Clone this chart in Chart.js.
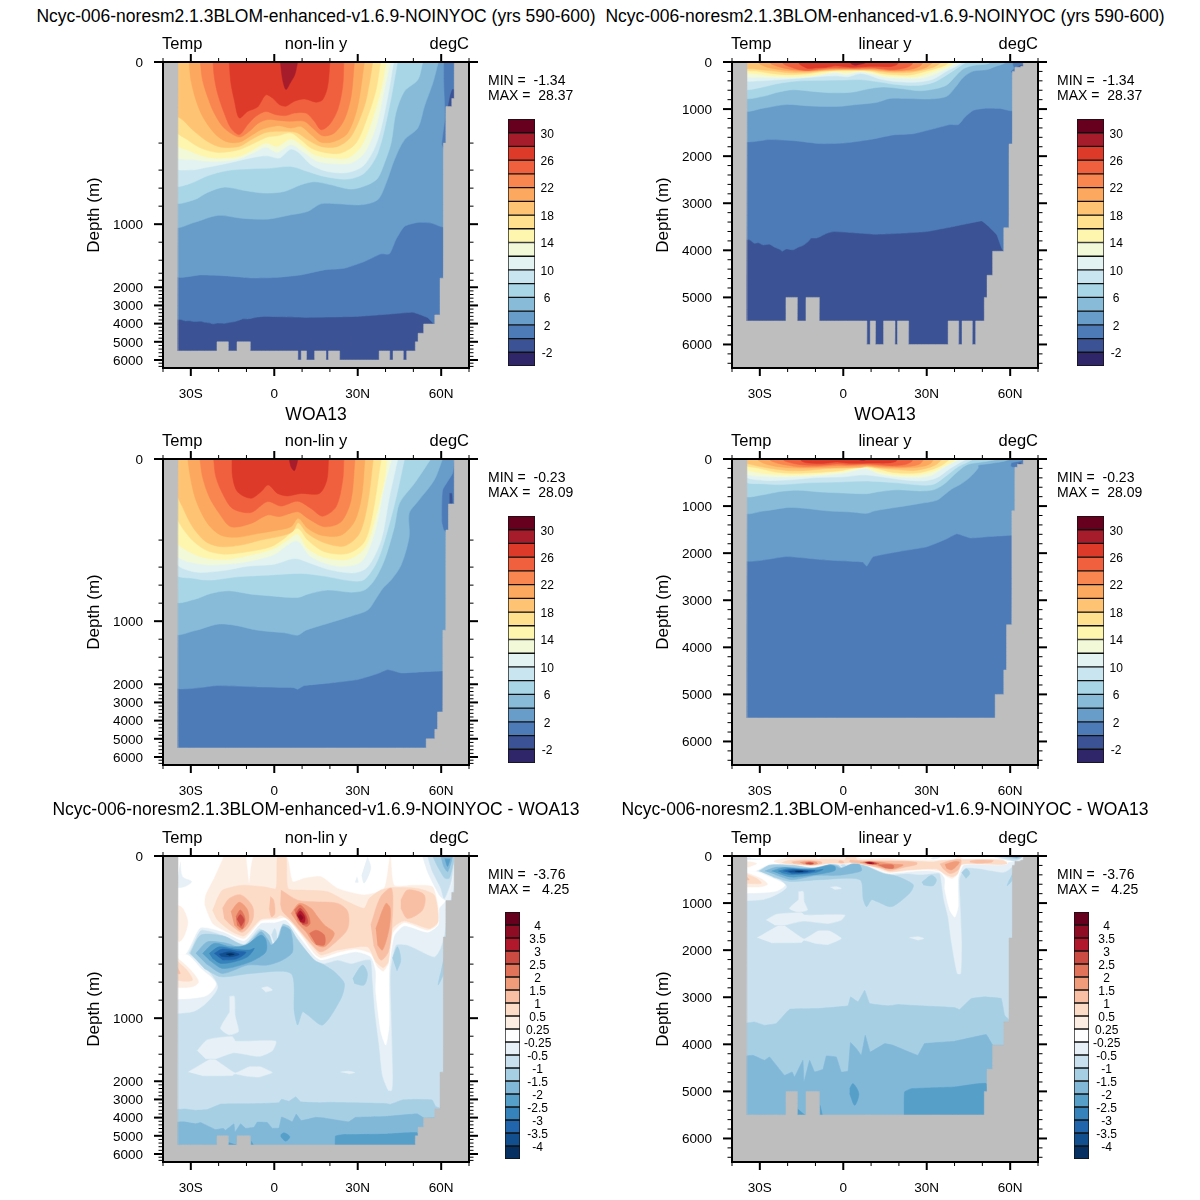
<!DOCTYPE html>
<html>
<head>
<meta charset="utf-8">
<title>Temperature sections</title>
<script src="https://cdn.jsdelivr.net/npm/chart.js@4/dist/chart.umd.min.js"></script>
<style>
  body { margin: 0; background: #fff; font-family: "Liberation Sans", sans-serif; color: #000; }
  #page { position: relative; width: 1200px; height: 1200px; overflow: hidden; }
  canvas { position: absolute; }
  .txt { position: absolute; white-space: pre; line-height: 1; }
</style>
</head>
<body>
<div id="page"></div>
<script>
// axis values
const latMajor = [-30, 0, 30, 60];
const depthMajor = [0, 1000, 2000, 3000, 4000, 5000, 6000];
// non-linear depth axis: depth -> fraction of axis height
const warpDepth = [0, 200, 400, 1400, 1600, 1800, 2000, 6000, 6500];
const warpFrac = [0, 0.265, 0.3533, 0.6478, 0.6903, 0.7132, 0.7361, 0.9738, 1];

// colour bars, top box to bottom box
const tempLevels = [30, 28, 26, 24, 22, 20, 18, 16, 14, 12, 10, 8, 6, 4, 2, 0, -2];
const tempColors = ["#67001f", "#a61c2b", "#dd3a2a", "#f0603e", "#f98550", "#fca85f", "#fec474", "#fee08e", "#fef6ae", "#f1f9d8", "#e2f3f2", "#c9e6f0", "#a8d6e6", "#87bbd8", "#689dca", "#4d7bb7", "#3b5394", "#2f2569"];
const diffLevels = ["4", "3.5", "3", "2.5", "2", "1.5", "1", "0.5", "0.25", "-0.25", "-0.5", "-1", "-1.5", "-2", "-2.5", "-3", "-3.5", "-4"];
const diffColors = ["#67001f", "#8e0d25", "#b2182b", "#cb4a42", "#e0735a", "#f09c7b", "#f8bfa4", "#fcdbc7", "#fdeee4", "#ffffff", "#e6f0f6", "#c9e1ee", "#a7cfe4", "#81b8d8", "#569fc9", "#3682ba", "#2166ac", "#124f8f", "#053061"];

// model isotherms, [lat, depth] along each line
const mT28 = [[2.2,0],[3,44],[4.2,68],[5.7,52],[7.4,31],[8.4,0]];
const mT26 = [[-16.2,0],[-15.6,52],[-14.4,93],[-12.6,138],[-9.6,122],[-6,111],[-3,81],[-0.6,89],[1.8,105],[4.2,109],[7.2,97],[10.8,91],[15,99],[17.4,93],[19.2,60],[20,0]];
const mT24 = [[-22,0],[-21.6,35],[-20.4,77],[-18,126],[-15.6,163],[-12.6,179],[-9.6,155],[-6.6,134],[-3,122],[0.6,130],[4.2,132],[7.2,126],[11.4,126],[14.4,146],[16.8,167],[19.8,155],[22.8,118],[24.6,60],[25,0]];
const mT22 = [[-26.6,0],[-25.8,44],[-24,85],[-21.6,126],[-18,163],[-12.6,185],[-9,171],[-6,152],[-2.4,142],[1.8,144],[5.4,146],[10.8,146],[13.8,163],[17.4,182],[21.6,175],[25.2,142],[27.6,85],[28.8,0]];
const mT20 = [[-30.6,0],[-30,44],[-28.2,93],[-25.8,134],[-21.6,175],[-17.4,196],[-12.6,198],[-8.4,182],[-4.8,167],[-1.2,160],[1.8,157],[6,163],[9.6,159],[13.2,179],[16.8,198],[21.6,196],[26.4,175],[30,109],[32.4,0]];
const mT18 = [[-35.5,126],[-32.4,146],[-28.8,171],[-24,196],[-19.2,230],[-12.6,225],[-8.4,192],[-3.6,175],[0.6,171],[4.8,171],[8.4,175],[12,192],[16.8,225],[22.8,225],[27.6,184],[32.4,109],[34.2,52],[35.4,0]];
const mT16 = [[-35.5,167],[-31.2,192],[-26.4,237],[-20.4,269],[-12.6,249],[-7.2,200],[-2.4,185],[1.2,182],[6,175],[9.6,192],[13.2,237],[18,269],[24,274],[29.4,200],[33.6,134],[36.6,68],[38.2,0]];
const mT14 = [[-35.5,200],[-30,262],[-24,304],[-18,311],[-12,294],[-7.2,244],[-3,200],[1,225],[6,190],[9.6,212],[14.4,286],[20.4,311],[26.4,311],[31.2,225],[34.8,151],[38.4,68],[40.2,0]];
const mT12 = [[-35.5,294],[-28.8,324],[-21.6,336],[-13.2,319],[-7.2,269],[-3,230],[1,269],[6,212],[10.2,262],[15.6,336],[21.6,353],[27.6,348],[32.4,274],[36.6,159],[39.6,68],[41.8,0]];
const mT10 = [[-35.5,378],[-30,398],[-24,378],[-15.6,343],[-7.2,304],[-2.4,294],[1.8,311],[6,244],[9,274],[13.2,360],[19.2,415],[26.4,426],[32.4,360],[37.2,192],[40.8,85],[42.9,0]];
const mT8 = [[-35.5,563],[-30,545],[-24,463],[-16.8,404],[-8.4,390],[-1.2,385],[6,373],[12,415],[18,470],[26.4,500],[32.4,433],[37.2,274],[41.4,109],[44.3,0]];
const mT6 = [[-35.5,748],[-28.8,729],[-24,648],[-18,589],[-10.8,626],[-3.6,655],[3.6,637],[9.6,563],[14.4,530],[20.4,563],[27.6,611],[33.6,563],[37.2,489],[39.6,348],[42,200],[43.7,126],[46.8,72],[51.6,44],[53.4,0]];
const mT4 = [[-35.5,1020],[-28.8,981],[-20.4,903],[-12,933],[-2.4,944],[6,896],[12,859],[16.8,774],[22.8,774],[31.2,785],[37.2,729],[40.2,544],[43.2,323],[46.8,192],[51.6,163],[54,109],[57,52],[59,0]];
const mT2 = [[-35.5,1666],[-26.4,1647],[-16.8,1676],[-8.4,1733],[0,1723],[9.6,1647],[18,1549],[25.2,1523],[32.4,1420],[38.4,1329],[41.4,1329],[43.7,1173],[46.8,1025],[51.6,981],[56.4,988],[61,1025],[61,260],[60.2,205],[61.3,138],[60.9,52],[60.9,0]];
const mT0 = [[-35.5,3760],[-33.5,3780],[-32,3850],[-30.5,3840],[-28.8,3885],[-26.5,3870],[-24.8,3930],[-22.8,3980],[-22,4020],[-20.5,3970],[-18,3990],[-16,3930],[-14.5,3900],[-12.6,3815],[-11.5,3740],[-9.6,3740],[-8,3700],[-6,3640],[-3.6,3602],[2,3620],[12,3659],[20,3640],[30,3602],[39.6,3495],[44,3440],[49.8,3375],[52,3480],[55.2,3673],[57.4,4000],[66,4000],[66,0]];
const mCold = [[62.4,115],[63.2,85],[64,68],[65,68],[65,115]];

// climatology isotherms
const oT28 = [[5.4,0],[6,19],[7.2,29],[8,15],[8.5,0]];
const oT26 = [[-15.2,0],[-15,44],[-13.2,81],[-8.4,97],[-4.8,81],[-2.2,64],[1.2,85],[4.8,91],[9.6,85],[16.2,85],[18.9,52],[19.5,0]];
const oT24 = [[-21.8,0],[-21,44],[-18.6,85],[-15,122],[-8.4,132],[-2.4,105],[2.4,116],[8.4,104],[13.2,122],[17.4,141],[22.2,118],[24.6,52],[25,0]];
const oT22 = [[-26.7,0],[-25.8,44],[-23.4,93],[-19.8,134],[-15.6,167],[-8.4,159],[-2.4,138],[1.8,142],[8.4,130],[12,146],[18,167],[24,155],[27.6,101],[29,0]];
const oT20 = [[-31.1,0],[-30.2,44],[-28.2,101],[-24,159],[-19.2,188],[-13.2,193],[-6,184],[0,177],[6,167],[8.6,146],[12,171],[16.8,188],[24,188],[28.8,155],[31.4,93],[32.6,0]];
const oT18 = [[-35.5,77],[-33,118],[-29.4,167],[-24.6,212],[-19.2,249],[-12,237],[-4.8,200],[2.4,190],[6.6,179],[8.6,157],[12,184],[18,220],[25.2,244],[30.6,184],[33.6,109],[35.6,0]];
const oT16 = [[-35.5,134],[-30.6,192],[-24.6,274],[-18,304],[-9.6,286],[-1.2,249],[3.6,196],[8.4,171],[12,200],[18,286],[26.4,299],[32.4,212],[35.4,134],[38.4,0]];
const oT14 = [[-35.5,200],[-30,294],[-24,336],[-16.8,343],[-8.4,311],[0,262],[4.8,200],[8.4,185],[12,262],[18,328],[26.4,343],[32.4,262],[36,155],[39.6,52],[40.5,0]];
const oT12 = [[-35.5,299],[-26.4,378],[-14.4,373],[-6,343],[0.2,304],[8,205],[13.2,324],[22.8,393],[31.2,361],[36,184],[39.6,68],[42.2,0]];
const oT10 = [[-35.5,361],[-28.8,452],[-19.2,441],[-9.6,393],[0,378],[7.4,336],[13.2,373],[20.4,433],[28.8,463],[33.6,398],[38.4,200],[41.4,93],[44.4,0]];
const oT8 = [[-35.5,470],[-28.8,526],[-22.8,544],[-13.2,507],[-2.4,489],[9.6,470],[18,500],[27.6,552],[32.4,537],[37.2,348],[41.4,159],[44.4,77],[46.8,0]];
const oT6 = [[-35.5,774],[-28.8,759],[-22.8,692],[-16.2,663],[-8.4,700],[0,722],[8.4,737],[12,700],[19.2,655],[27.6,678],[32.4,655],[36,544],[39.6,348],[43.2,167],[45,109],[50.4,60],[56.3,0]];
const oT4 = [[-35.5,1130],[-28.8,1107],[-20.4,1033],[-14.4,1044],[-6,1100],[3.6,1129],[8.4,1155],[11.4,1100],[19.2,1025],[27.6,944],[33.6,877],[36.6,748],[39,637],[42,544],[45.6,385],[48.5,192],[48.5,134],[51.6,105],[57.5,52],[60.5,0]];
const oT2 = [[-35.5,2147],[-20.4,2073],[-6,2147],[3.6,2175],[7,2190],[8.4,2275],[9.6,2170],[10.8,2073],[20.4,1961],[30,1866],[37.2,1695],[40.8,1590],[45.6,1676],[52.8,1647],[60.6,1619],[62.3,1619],[62.3,185],[60.9,175],[60.2,155],[60.5,77],[64.1,35],[64.7,0]];
const oCold = [[63,85],[63.8,85],[64,109],[63,109]];

// sea floor and side walls
const landModel = [[-40,0],[-34.6,0],[-34.6,5500],[-20.6,5500],[-20.6,5000],[-16.5,5000],[-16.5,5500],[-13.4,5500],[-13.4,5000],[-8.6,5000],[-8.6,5500],[8.5,5500],[8.5,6000],[9.7,6000],[9.7,5500],[11.6,5500],[11.6,6000],[14.5,6000],[14.5,5500],[18.6,5500],[18.6,6000],[19.5,6000],[19.5,5500],[23.5,5500],[23.5,6000],[37.7,6000],[37.7,5500],[41.5,5500],[41.5,6000],[42.7,6000],[42.7,5500],[46.4,5500],[46.4,6000],[47.6,6000],[47.6,5500],[50.7,5500],[50.7,5000],[51.7,5000],[51.7,4530],[53.7,4530],[53.7,4020],[57.7,4020],[57.7,3520],[59.6,3520],[59.6,1740],[60.8,1740],[60.8,200],[61.7,200],[61.7,110],[63.8,110],[63.8,90],[64.7,90],[64.7,0],[70,0],[70,6500],[-40,6500]];
const landObs = [[-40,0],[-34.6,0],[-34.6,5500],[54.6,5500],[54.6,5000],[57.7,5000],[57.7,4480],[58.7,4480],[58.7,3520],[60.6,3520],[60.6,1100],[61.7,1100],[61.7,175],[62.6,175],[62.6,111],[64.7,111],[64.7,0],[70,0],[70,6500],[-40,6500]];
const landDiff = [[-40,0],[-34.6,0],[-34.6,5500],[-20.6,5500],[-20.6,5000],[-16.5,5000],[-16.5,5500],[-13.4,5500],[-13.4,5000],[-8.6,5000],[-8.6,5500],[50.7,5500],[50.7,5000],[51.7,5000],[51.7,4530],[53.7,4530],[53.7,4020],[57.7,4020],[57.7,3520],[59.6,3520],[59.6,1740],[60.8,1740],[60.8,200],[61.7,200],[61.7,110],[63.8,110],[63.8,90],[64.7,90],[64.7,0],[70,0],[70,6500],[-40,6500]];
const wholeSection = [[-40,0],[70,0],[70,6500],[-40,6500]];

// difference field, one outline per closed contour
const dDeepA = [[-16.1,759],[-14.4,759],[-14.1,971],[-12.9,1149],[-16.3,1184],[-19.3,1113],[-16.1,936]];
const dDeepB = [[-27.7,1361],[-24.1,1241],[-15.1,1205],[-13.9,1255],[0.5,1255],[-0.7,1361],[-5.5,1432],[-14.5,1383],[-21.1,1468],[-24.7,1468]];
const dDeepC = [[-30.9,1737],[-23.5,1489],[-21.1,1489],[-14.1,1765],[-9.1,1595],[-4.9,1595],[-0.7,1751],[-5.5,1879],[-9.7,1858],[-14.1,1787],[-15.1,1836],[-25.9,1843]];
const dDeepD = [[23.8,1737],[26.8,1716],[28.9,1751],[26.8,1787]];
const dDeepE = [[-4.6,666],[-2.5,652],[-0.7,688],[-3.1,709]];
const dM15Deep = [[-36,3559],[-31.9,3524],[-28.3,3595],[-24.1,3559],[-19.3,3254],[-9.1,3240],[1.7,3183],[2.6,2992],[5.3,3098],[7.7,2850],[9.5,3134],[16.1,3183],[19.6,3155],[28,3183],[40,3219],[41.8,3261],[46,3027],[50.8,2992],[56.8,3027],[58,3382],[59.8,3488],[66,3488],[66,6500],[-36,6500]];
const dM20Deep = [[-36,4254],[-32.5,4233],[-28.3,4339],[-26.5,4268],[-21.1,4658],[-18.4,4587],[-17.5,4694],[-14.5,4339],[-14.1,4800],[-12.1,4339],[-10.3,4587],[-7.3,4530],[-6.1,4247],[-2.5,4268],[-0.7,4587],[1.7,4573],[2.6,3963],[4.7,4091],[6.5,4233],[7.9,3807],[9.7,4162],[14.9,3985],[17.9,4020],[26.8,4233],[29.2,3985],[40,3935],[51.4,3793],[53.8,4020],[66,4020],[66,6500],[-36,6500]];
const dM25Deep = [[21.9,5600],[22,5013],[24.4,4942],[40,4906],[51.4,4835],[52,5600]];
const dM25SmallA = [[2.3,4942],[3.5,4835],[5.6,5048],[4.1,5296],[2.3,5048]];
const dM25SmallB = [[-16.5,5367],[-15.1,5438],[-13.7,5509],[-16.5,5509]];
const dM25SmallC = [[-8.3,5296],[-7.5,5509],[-8.3,5509]];
const dFaintTop = [[-35.3,0],[-35.3,321],[-31.1,323],[-26.4,183],[-18.6,195],[-10.8,252],[-5.4,179],[-2.4,195],[0.2,259],[3,166],[4.2,169],[8.4,210],[14.4,370],[18,395],[22.8,370],[27.6,395],[32.3,370],[34.7,370],[35.3,559],[36.2,929],[37.7,1299],[38.9,1828],[41,2495],[42.2,2495],[42.5,1828],[41.9,929],[41.7,485],[43.7,259],[47.9,259],[57.5,346],[59.7,284],[61.1,195],[62.3,137],[65.3,55],[65.3,0]];
const dFaintLens = [[-35.3,259],[-31.7,304],[-29.4,346],[-24,467],[-20.4,652],[-24,818],[-28.8,922],[-35.3,948]];
const dZeroTop = [[-35.3,0],[-35.3,321],[-31.7,321],[-26.6,177],[-18,188],[-10.8,227],[-4.8,166],[0,164],[4.2,158],[8.4,193],[14.4,338],[16.8,370],[22.8,338],[29.4,309],[34.7,346],[36.5,478],[36.5,707],[38.3,1151],[40.1,1299],[41.3,1077],[41.3,467],[43.1,197],[46.7,172],[55.1,188],[58.9,170],[59.3,129],[61.7,109],[64.1,55],[64.1,0]];
const dZeroLens = [[-35.3,328],[-31.1,333],[-26.4,448],[-21,613],[-24,744],[-30,781],[-35.3,789]];
const dFaintPatchA = [[-33.8,14],[-33,51],[-29.7,63],[-32.3,76],[-35.3,76],[-34.7,55]];
const dFaintPatchB = [[33.5,2],[34.7,30],[32.3,67],[31.4,47]];
const dFaintPatchC = [[29.7,51],[30.2,65],[29,65]];
const dP025Main = [[-18,0],[-21.6,55],[-24.6,96],[-24.9,121],[-22.2,166],[-18.6,182],[-10.8,210],[-4.8,160],[0.6,156],[4.2,152],[9,188],[14.4,321],[16.8,353],[22.8,314],[29.4,289],[34.7,321],[37.1,430],[39.2,478],[41,395],[42.5,191],[46.7,164],[55.1,183],[58.5,170],[58.9,129],[56.9,76],[50.3,72],[43.1,72],[41.7,0],[39.5,80],[32.3,96],[22.8,80],[16.8,51],[10.8,55],[6.6,63],[4.2,0],[-7.2,0],[-9,67],[-10.2,0]];
const dP025Wall = [[-35.3,119],[-32.9,129],[-31.1,162],[-32.3,196],[-34.1,235],[-35.3,210]];
const dP025Lens = [[-35.3,346],[-30,467],[-27.2,596],[-29.4,652],[-35.3,659]];
const dP05Main = [[-21,113],[-18.6,84],[-11.4,72],[-3.6,76],[0.6,80],[1.2,0],[4.2,0],[5,80],[10.8,84],[19.2,88],[26.4,113],[32.3,129],[34.1,105],[38.3,84],[41.9,78],[51.5,80],[57.5,96],[58.9,162],[55.7,179],[46.7,160],[42.5,179],[41,383],[39.2,441],[36.5,383],[33.5,272],[22.8,296],[16.8,333],[13.2,259],[6,162],[2.4,146],[0.6,152],[-4.8,156],[-10.8,197],[-15.6,185],[-20.4,158],[-22.2,133]];
const dP05Lens = [[-35.3,370],[-31.1,478],[-29.4,578],[-32.3,589],[-35.3,578]];
const dP1Lens = [[-35.3,411],[-33.8,504],[-35.3,504]];
const dP1A = [[-18.6,129],[-16.2,105],[-12,96],[-7.8,125],[-7.8,158],[-11.4,188],[-15.6,170],[-18,154]];
const dP1B = [[-1.4,100],[-0.2,109],[0.2,142],[-1,150],[-1.8,129]];
const dP1C = [[2.4,84],[8.4,109],[14.4,113],[22.8,117],[26.4,137],[26.4,179],[22.2,235],[16.8,309],[13.2,247],[6,158],[3,137],[2.2,117]];
const dP1D = [[34.7,170],[38.3,100],[42.2,80],[42.2,179],[41,309],[38.3,370],[35.7,259]];
const dP1E = [[45.5,109],[47.9,84],[53.9,96],[53.3,133],[47.9,154],[45.5,129]];
const dP15A = [[-15.6,137],[-12.6,114],[-9.6,133],[-9.3,162],[-12,183],[-14.4,170]];
const dP15B = [[6,142],[9,117],[13.2,129],[15.6,150],[18,170],[21.6,191],[18,272],[14.4,247],[11.4,187],[8.4,166]];
const dP15C = [[36.5,179],[40.1,117],[41.7,129],[41.3,179],[38.9,296],[37.1,259]];
const dP2A = [[-13.8,150],[-12.2,133],[-10.5,154],[-11.4,179],[-13.4,170]];
const dP2B = [[7.2,133],[9.3,121],[12,142],[12.9,166],[11.4,174],[8.4,158]];
const dP2C = [[12.6,191],[15,183],[18,195],[18,259],[15,254]];
const dP25A = [[-13.4,156],[-12.2,144],[-10.8,158],[-12,174]];
const dP25B = [[7.8,142],[9.3,129],[11.4,146],[12,166],[10.2,169]];
const dP3 = [[8.1,146],[9.3,135],[11,150],[10.8,164],[9.3,162]];
const dP35 = [[8.6,150],[9.3,144],[10.3,152],[9.6,159]];
const dM1Stripe = [[-1,195],[0.2,179],[1,210],[0.2,259]];
const dM15Main = [[-30.2,321],[-26.4,195],[-18,198],[-10.8,259],[-4.8,183],[-1.8,195],[0,284],[3,170],[5.4,174],[8.4,222],[14.4,370],[18,411],[21.6,485],[25.2,615],[24,781],[17.4,1077],[12,966],[10.2,929],[8.4,1077],[7.2,929],[6,504],[-8.4,504],[-19.2,541],[-25.2,448]];
const dM15SmallA = [[28.2,559],[31.7,411],[33.5,504],[32.3,633],[28.8,615]];
const dM15SmallB = [[42.5,356],[44.3,272],[45.5,370],[44.1,478]];
const dM15SmallC = [[61.1,333],[61.3,467],[58.9,633],[59.7,504]];
const dM2Main = [[-28.2,321],[-24,235],[-16.8,247],[-10.8,284],[-4.8,187],[-2.2,222],[-1,259],[1.8,198],[3,174],[5.8,183],[6.6,309],[3,370],[-2.4,411],[-9.6,411],[-18.6,504],[-24.6,395]];
const dM25Main = [[-25.8,321],[-21.6,247],[-15.6,272],[-10.2,259],[-4.8,195],[-3,222],[-3,309],[-7.2,370],[-12,411],[-18.6,448],[-23.4,370]];
const dM3Main = [[-23.4,321],[-19.8,272],[-14.4,289],[-9,296],[-7.2,284],[-9.6,346],[-14.4,383],[-19.2,395],[-22.2,358]];
const dM35Main = [[-21.6,321],[-18.6,289],[-13.2,304],[-10.2,314],[-13.8,363],[-18.6,370]];
const dM4Main = [[-19.8,326],[-16.2,309],[-12.6,328],[-16.2,348],[-19.2,341]];
const dM45Main = [[-17.4,326],[-15.6,321],[-14.4,328],[-16.2,336]];
const dNorthFaint = [[53.3,0],[55.1,39],[59.3,96],[61.7,109],[64.1,55],[64.7,0]];
const dNorthM1 = [[55.1,0],[56.9,39],[59.9,80],[61.1,105],[63.5,63],[64.7,0]];
const dNorthM15 = [[56.9,0],[58.7,26],[61.3,55],[62.9,55],[64.5,14],[64.5,0]];
const dNorthM2 = [[59.9,0],[60.9,26],[62.3,39],[63.5,18],[64.1,0]];
const dNorthM25 = [[61.3,6],[62.3,26],[63.3,7]];

// [box index in the colour bar, outline, curve tension], painted in this order
const modelLayers = [[16, wholeSection, 0], [15, mT0, 0.1], [14, mT2, 0.2], [13, mT4, 0.3], [12, mT6, 0.3], [11, mT8, 0.3], [10, mT10, 0.3], [9, mT12, 0.3], [8, mT14, 0.3], [7, mT16, 0.3], [6, mT18, 0.3], [5, mT20, 0.3], [4, mT22, 0.3], [3, mT24, 0.3], [2, mT26, 0.3], [1, mT28, 0.3], [16, mCold, 0.1]];
const obsLayers = [[15, wholeSection, 0], [14, oT2, 0.15], [13, oT4, 0.3], [12, oT6, 0.3], [11, oT8, 0.3], [10, oT10, 0.3], [9, oT12, 0.3], [8, oT14, 0.3], [7, oT16, 0.3], [6, oT18, 0.3], [5, oT20, 0.3], [4, oT22, 0.3], [3, oT24, 0.3], [2, oT26, 0.3], [1, oT28, 0.3], [16, oCold, 0.1]];
const diffLayers = [
  [11, wholeSection, 0], [10, dDeepA, 0.2], [10, dDeepB, 0.2], [10, dDeepC, 0.1], [10, dDeepD, 0.2], [10, dDeepE, 0.2],
  [12, dM15Deep, 0.05], [13, dM20Deep, 0.05], [14, dM25Deep, 0.1], [14, dM25SmallA, 0.3], [14, dM25SmallB, 0], [14, dM25SmallC, 0],
  [10, dFaintTop, 0.2], [10, dFaintLens, 0.3], [9, dZeroTop, 0.2], [9, dZeroLens, 0.3],
  [10, dFaintPatchA, 0.3], [10, dFaintPatchB, 0.3], [10, dFaintPatchC, 0.2],
  [8, dP025Main, 0.2], [8, dP025Wall, 0.3], [8, dP025Lens, 0.3], [7, dP05Main, 0.2], [7, dP05Lens, 0.3], [6, dP1Lens, 0.2],
  [6, dP1A, 0.3], [6, dP1B, 0.3], [6, dP1C, 0.3], [6, dP1D, 0.3], [6, dP1E, 0.3],
  [5, dP15A, 0.3], [5, dP15B, 0.3], [5, dP15C, 0.3], [4, dP2A, 0.3], [4, dP2B, 0.3], [4, dP2C, 0.3],
  [3, dP25A, 0.3], [3, dP25B, 0.3], [2, dP3, 0.3], [1, dP35, 0.3],
  [12, dM15Main, 0.25], [11, dM1Stripe, 0.3], [12, dM15SmallA, 0.3], [12, dM15SmallB, 0.3], [12, dM15SmallC, 0.3],
  [13, dM2Main, 0.25], [14, dM25Main, 0.3], [15, dM3Main, 0.3], [16, dM35Main, 0.3], [17, dM4Main, 0.3], [18, dM45Main, 0.3],
  [10, dNorthFaint, 0.2], [11, dNorthM1, 0.2], [12, dNorthM15, 0.2], [13, dNorthM2, 0.2], [14, dNorthM25, 0.2]
];

const modelName = "Ncyc-006-noresm2.1.3BLOM-enhanced-v1.6.9-NOINYOC";
const rows = [
  { top: 62, title: modelName + " (yrs 590-600)", titleY: 17, layers: modelLayers, colors: tempColors, land: landModel, stats: ["MIN =  -1.34", "MAX =  28.37"], barLeft: 508, barWidth: 27, barTop: 119, levels: tempLevels, every: 2, labelPad: 5.5 },
  { top: 459, title: "WOA13", titleY: 415, layers: obsLayers, colors: tempColors, land: landObs, stats: ["MIN =  -0.23", "MAX =  28.09"], barLeft: 508, barWidth: 27, barTop: 516, levels: tempLevels, every: 2, labelPad: 5.5 },
  { top: 856, title: modelName + " - WOA13", titleY: 810, layers: diffLayers, colors: diffColors, land: landDiff, stats: ["MIN =  -3.76", "MAX =   4.25"], barLeft: 505, barWidth: 15, barTop: 912, levels: diffLevels, every: 1, labelPad: 4 }
];
const columns = [
  { left: 163, axisType: "depth", note: "non-lin y" },
  { left: 732, axisType: "linear", note: "linear y" }
];

const page = document.getElementById("page");
Chart.defaults.font.family = "'Liberation Sans', sans-serif";
Chart.defaults.color = "#000";
Chart.defaults.animation = false;

// depth axis stretched near the surface
class DepthScale extends Chart.LinearScale {
  static id = "depth";
  static defaults = {};
  getPixelForValue(value) {
    let i = 1;
    while (i < warpDepth.length - 1 && value > warpDepth[i]) i++;
    const t = (value - warpDepth[i - 1]) / (warpDepth[i] - warpDepth[i - 1]);
    return this.getPixelForDecimal(warpFrac[i - 1] + t * (warpFrac[i] - warpFrac[i - 1]));
  }
}
Chart.register(DepthScale);

// axis frame and outward ticks on all four sides
const frameTicks = {
  id: "frameTicks",
  afterDraw(chart) {
    const ctx = chart.ctx;
    const { left, right, top, bottom } = chart.chartArea;
    const mark = (x1, y1, x2, y2, w) => {
      ctx.lineWidth = w;
      ctx.beginPath();
      ctx.moveTo(x1, y1);
      ctx.lineTo(x2, y2);
      ctx.stroke();
    };
    ctx.save();
    ctx.strokeStyle = "#000";
    for (let lat = -40; lat <= 70; lat += 10) {
      const major = latMajor.includes(lat);
      const x = chart.scales.x.getPixelForValue(lat);
      const len = major ? 8 : 4;
      mark(x, bottom, x, bottom + len, major ? 2 : 1);
      mark(x, top, x, top - len, major ? 2 : 1);
    }
    for (let d = 0; d <= 6400; d += 200) {
      const major = d % 1000 === 0;
      const y = chart.scales.y.getPixelForValue(d);
      const len = major ? 9 : 4.5;
      mark(left, y, left - len, y, major ? 2 : 1);
      mark(right, y, right + len, y, major ? 2 : 1);
    }
    ctx.lineWidth = 2;
    ctx.strokeRect(left, top, right - left, bottom - top);
    ctx.restore();
  }
};

function addText(text, x, y, size, anchor) {
  const el = document.createElement("div");
  el.className = "txt";
  el.textContent = text;
  el.style.left = x + "px";
  el.style.top = y + "px";
  el.style.fontSize = size + "px";
  const shift = anchor === "middle" ? "-50%" : anchor === "end" ? "-100%" : "0";
  el.style.transform = "translate(" + shift + ", -50%)";
  page.appendChild(el);
}

function addCanvas(x, y, w, h) {
  const c = document.createElement("canvas");
  c.width = w;
  c.height = h;
  c.style.left = x + "px";
  c.style.top = y + "px";
  page.appendChild(c);
  return c;
}

// outline closed along the surface when it starts below it
function asPoints(outline) {
  const pts = outline[0][1] > 0 && outline[outline.length - 1][1] === 0 ? [[outline[0][0], 0], ...outline] : outline;
  return pts.map((p) => ({ x: p[0], y: p[1] }));
}

function shapeDataset(color, outline, tension) {
  return {
    data: asPoints(outline),
    showLine: true,
    fill: "shape",
    backgroundColor: color,
    borderColor: color,
    borderWidth: 0.5,
    pointRadius: 0,
    tension: tension
  };
}

// the axis keeps its end labels inside the canvas margins, no extra inset
function noLabelInset(axis) {
  axis.paddingTop = 0;
  axis.paddingBottom = 0;
  axis.paddingLeft = 0;
  axis.paddingRight = 0;
}

function drawSection(row, col) {
  const datasets = row.layers.map((l) => shapeDataset(row.colors[l[0]], l[1], l[2]));
  datasets.push(shapeDataset("#bebebe", row.land, 0.001));
  datasets.reverse(); // first dataset is painted last
  const canvas = addCanvas(col.left - 103, row.top - 12, 430, 358);
  new Chart(canvas, {
    type: "scatter",
    data: { datasets: datasets },
    plugins: [frameTicks],
    options: {
      responsive: false,
      events: [],
      layout: { padding: { top: 12, right: 21, left: 0, bottom: 0 } },
      plugins: { legend: { display: false }, tooltip: { enabled: false } },
      scales: {
        x: {
          type: "linear",
          min: -40,
          max: 70,
          grid: { display: false, drawTicks: false },
          border: { display: false },
          afterBuildTicks: (axis) => { axis.ticks = latMajor.map((v) => ({ value: v })); },
          afterFit: (axis) => { axis.height = 40; noLabelInset(axis); },
          ticks: {
            autoSkip: false,
            maxRotation: 0,
            padding: 18,
            font: { size: 13.5 },
            callback: (v) => (v < 0 ? -v + "S" : v > 0 ? v + "N" : "0")
          }
        },
        y: {
          type: col.axisType,
          min: 0,
          max: 6500,
          reverse: true,
          grid: { display: false, drawTicks: false },
          border: { display: false },
          afterBuildTicks: (axis) => { axis.ticks = depthMajor.map((v) => ({ value: v })); },
          afterFit: (axis) => { axis.width = 103; noLabelInset(axis); },
          title: { display: true, text: "Depth (m)", font: { size: 17 }, padding: { top: 24, bottom: 0 } },
          ticks: { autoSkip: false, padding: 20, labelOffset: 1, font: { size: 13.5 }, callback: (v) => String(v) }
        }
      }
    }
  });
}

function drawColorBar(row, x) {
  const height = row.colors.length;
  const boxes = row.colors.map((c) => ({
    data: [1],
    backgroundColor: c,
    borderColor: "#111",
    borderWidth: 1,
    borderSkipped: false,
    barPercentage: 1,
    categoryPercentage: 1
  }));
  const canvas = addCanvas(x - 2, row.barTop - 10, row.barWidth + 60, 267);
  new Chart(canvas, {
    type: "bar",
    data: { labels: [""], datasets: boxes },
    options: {
      responsive: false,
      events: [],
      layout: { padding: { top: 10, bottom: 10, left: 2, right: 0 } },
      plugins: { legend: { display: false }, tooltip: { enabled: false } },
      scales: {
        x: { stacked: true, display: false },
        y: {
          stacked: true,
          position: "right",
          min: 0,
          max: height,
          reverse: true,
          grid: { display: false, drawTicks: false },
          border: { display: false },
          afterBuildTicks: (axis) => {
            axis.ticks = row.levels.map((_, i) => ({ value: i + 1 })).filter((t, i) => i % row.every === 0);
          },
          afterFit: (axis) => { axis.width = 58; noLabelInset(axis); },
          ticks: {
            autoSkip: false,
            crossAlign: "center",
            padding: row.labelPad,
            labelOffset: 1.5,
            font: { size: 12 },
            callback: (v) => String(row.levels[v - 1])
          }
        }
      }
    }
  });
}

rows.forEach((row) => {
  columns.forEach((col) => {
    const dx = col.left - 163;
    const cx = col.left + 153;
    drawSection(row, col);
    addText(row.title, cx, row.titleY, 17.5, "middle");
    addText("Temp", col.left - 1, row.top - 19, 16.5);
    addText(col.note, cx, row.top - 19, 16.5, "middle");
    addText("degC", col.left + 306, row.top - 19, 16.5, "end");
    addText(row.stats[0], 488 + dx, row.top + 18, 14);
    addText(row.stats[1], 488 + dx, row.top + 33, 14);
    drawColorBar(row, row.barLeft + dx);
  });
});
</script>
</body>
</html>
